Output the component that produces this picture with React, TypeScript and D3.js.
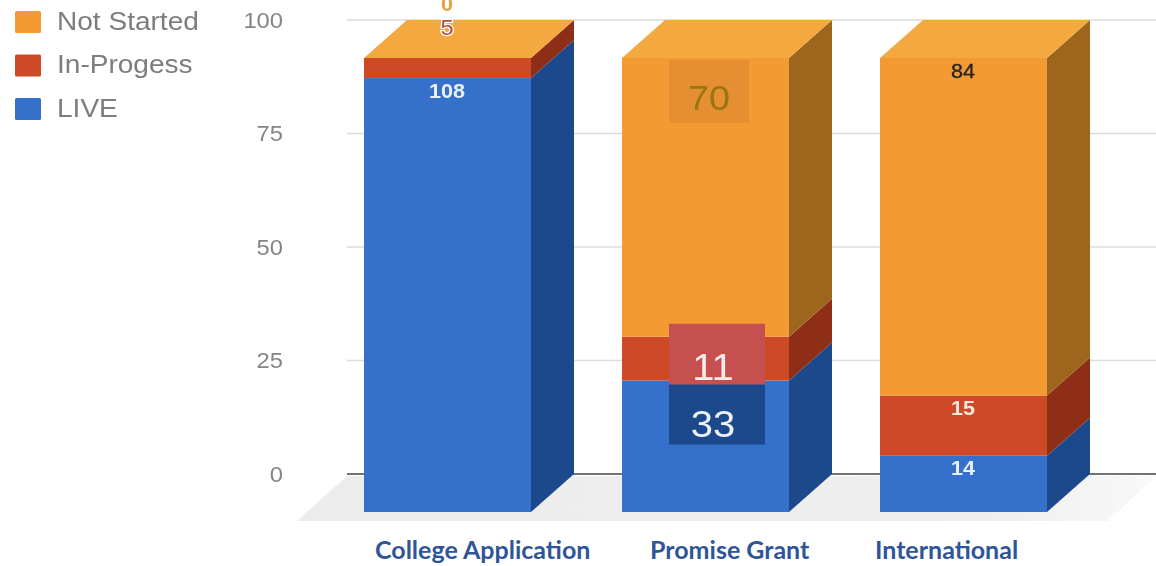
import React from "react";
import * as d3 from "d3";

const categories = ["College Application", "Promise Grant", "International"];
const seriesNames = ["LIVE", "In-Progess", "Not Started"];
const live = [108, 33, 14];
const inProgress = [5, 11, 15];
const notStarted = [0, 70, 84];
const axisTicks = [0, 25, 50, 75, 100];

const W = 1156, H = 566;
const DEPTH_X = 43, DEPTH_Y = 38;
const FRONT = { "LIVE": "#3670cb", "In-Progess": "#ce4a27", "Not Started": "#f39a30" } as Record<string, string>;
const SIDE = { "LIVE": "#1f4a8c", "In-Progess": "#8f2f17", "Not Started": "#9e661c" } as Record<string, string>;
const TOP_COLOR = "#f4a840";
const CATEGORY_LABEL_LEFT = [375, 650, 875];

const rows = categories.map((c, i) => ({
  category: c,
  "LIVE": live[i],
  "In-Progess": inProgress[i],
  "Not Started": notStarted[i],
}));
const stacked = d3.stack<any>().keys(seriesNames).offset(d3.stackOffsetExpand)(rows);

const x = d3.scaleBand<string>().domain(categories).range([364, 1047]).paddingInner(91 / 258).paddingOuter(0);
const y = d3.scaleLinear().domain([0, 1]).range([512, 58]);
const yAxis = d3.scaleLinear().domain([0, 100]).range([474, 20]);

const SANS = "'Liberation Sans', Arial, sans-serif";

function poly(pts: [number, number][]) {
  return d3.line()(pts) + "Z";
}

// The reference picture is slightly stretched horizontally, so its glyphs are too.
function Wide({ x, y, sx = 1.08, children, ...rest }: any) {
  return (
    <text transform={`translate(${x},${y}) scale(${sx},1)`} {...rest}>{children}</text>
  );
}

export default function App() {
  const bw = x.bandwidth();
  const legendOrder = [...seriesNames].reverse();
  return (
    <svg width={W} height={H} viewBox={`0 0 ${W} ${H}`} style={{ position: "absolute", left: 0, top: 0, background: "#fff" }}>
      <defs>
        <filter id="soft" x="-5%" y="-5%" width="110%" height="110%"><feGaussianBlur stdDeviation="0.6" /></filter>
        <filter id="softT" x="-10%" y="-10%" width="120%" height="120%"><feGaussianBlur stdDeviation="0.5" /></filter>
        <filter id="softL" x="-10%" y="-10%" width="120%" height="120%"><feGaussianBlur stdDeviation="0.75" /></filter>
        <linearGradient id="floor" x1="0" x2="1" y1="0" y2="0">
          <stop offset="0" stopColor="#ececec" />
          <stop offset="0.82" stopColor="#efefef" />
          <stop offset="1" stopColor="#f9f9f9" />
        </linearGradient>
      </defs>

      <path d={poly([[347, 476], [1156, 476], [1108, 521], [297, 521]])} fill="url(#floor)" />

      {axisTicks.map((t) => (
        <line key={t} x1={347} x2={W} y1={yAxis(t)} y2={yAxis(t)}
          stroke={t === 0 ? "#444" : "#dcdcdc"} strokeWidth={1.4} />
      ))}

      <g filter="url(#softL)">
        {axisTicks.map((t) => (
          <Wide key={t} x={283} y={yAxis(t)} dy="0.35em" sx={1.08} textAnchor="end" fontFamily={SANS} fontSize={22} fill="#858585">{t}</Wide>
        ))}
      </g>

      <g filter="url(#soft)">
        {categories.map((c, i) => {
          const x0 = x(c)!;
          const x1 = x0 + bw;
          return (
            <g key={c}>
              {stacked.map((s) => {
                const yb = y(s[i][0]);
                const yt = y(s[i][1]);
                const name = s.key;
                return (
                  <g key={name}>
                    <path d={poly([[x1, yb], [x1 + DEPTH_X, yb - DEPTH_Y], [x1 + DEPTH_X, yt - DEPTH_Y], [x1, yt]])} fill={SIDE[name]} />
                    <rect x={x0} y={yt} width={bw} height={yb - yt} fill={FRONT[name]} />
                  </g>
                );
              })}
              <path d={poly([[x0, y(1)], [x1, y(1)], [x1 + DEPTH_X, y(1) - DEPTH_Y], [x0 + DEPTH_X, y(1) - DEPTH_Y]])} fill={TOP_COLOR} />
            </g>
          );
        })}
        {(() => {
          const x0 = x(categories[1])!;
          return (
            <g>
              <rect x={x0 + 47} y={y(1) + 2} width={80} height={63} fill="#e58f32" />
              <rect x={x0 + 47} y={y(stacked[1][1][1]) - 13} width={96} height={61} fill="#c65050" />
              <rect x={x0 + 47} y={y(stacked[0][1][1]) + 4} width={96} height={60} fill="#1f4a8c" />
            </g>
          );
        })()}
      </g>

      <g filter="url(#softT)" fontFamily={SANS} textAnchor="middle">
        <Wide x={x(categories[0])! + 83} y={y(1) - 47} fontSize={20} fontWeight={700} fill="#e8a040" stroke="#fff" strokeWidth={3} paintOrder="stroke">{notStarted[0]}</Wide>
        <Wide x={x(categories[0])! + 83} y={y(1) - 23} fontSize={22} fill="#b0503a" stroke="#fff" strokeWidth={2.5} paintOrder="stroke">{inProgress[0]}</Wide>
        <Wide x={x(categories[0])! + 83} y={y(stacked[0][0][1]) + 20} fontSize={20} fontWeight={700} fill="#e8f0fa">{live[0]}</Wide>

        <Wide x={x(categories[1])! + 87} y={y(1) + 52} fontSize={35} fill="#9a7512">{notStarted[1]}</Wide>
        <Wide x={x(categories[1])! + 91} y={y(stacked[1][1][1]) + 43} fontSize={37} fill="#f6ecec">{inProgress[1]}</Wide>
        <Wide x={x(categories[1])! + 91} y={y(stacked[0][1][1]) + 56} fontSize={37} fill="#eef3fa">{live[1]}</Wide>

        <Wide x={x(categories[2])! + 83} y={y(1) + 20} fontSize={20} fill="#222" stroke="#222" strokeWidth={0.3}>{notStarted[2]}</Wide>
        <Wide x={x(categories[2])! + 83} y={y(stacked[1][2][1]) + 20} fontSize={20} fontWeight={700} fill="#f5e6df">{inProgress[2]}</Wide>
        <Wide x={x(categories[2])! + 83} y={y(stacked[0][2][1]) + 19} fontSize={20} fontWeight={700} fill="#e8f0fa">{live[2]}</Wide>
      </g>

      <g filter="url(#softL)">
        {legendOrder.map((name, i) => (
          <g key={name} transform={`translate(15,${11 + i * 43.5})`}>
            <rect width={26} height={22} rx={1.5} fill={FRONT[name]} />
            <Wide x={42} y={10} dy="0.35em" sx={1.1} fontFamily={SANS} fontSize={25.5} fill="#7d7d7d">{name}</Wide>
          </g>
        ))}
      </g>

      {categories.map((c, i) => (
        <text key={c} x={CATEGORY_LABEL_LEFT[i]} y={559} fontFamily="Lato, sans-serif" fontWeight={700} fontSize={25} fill="#2f5597">{c}</text>
      ))}
    </svg>
  );
}
